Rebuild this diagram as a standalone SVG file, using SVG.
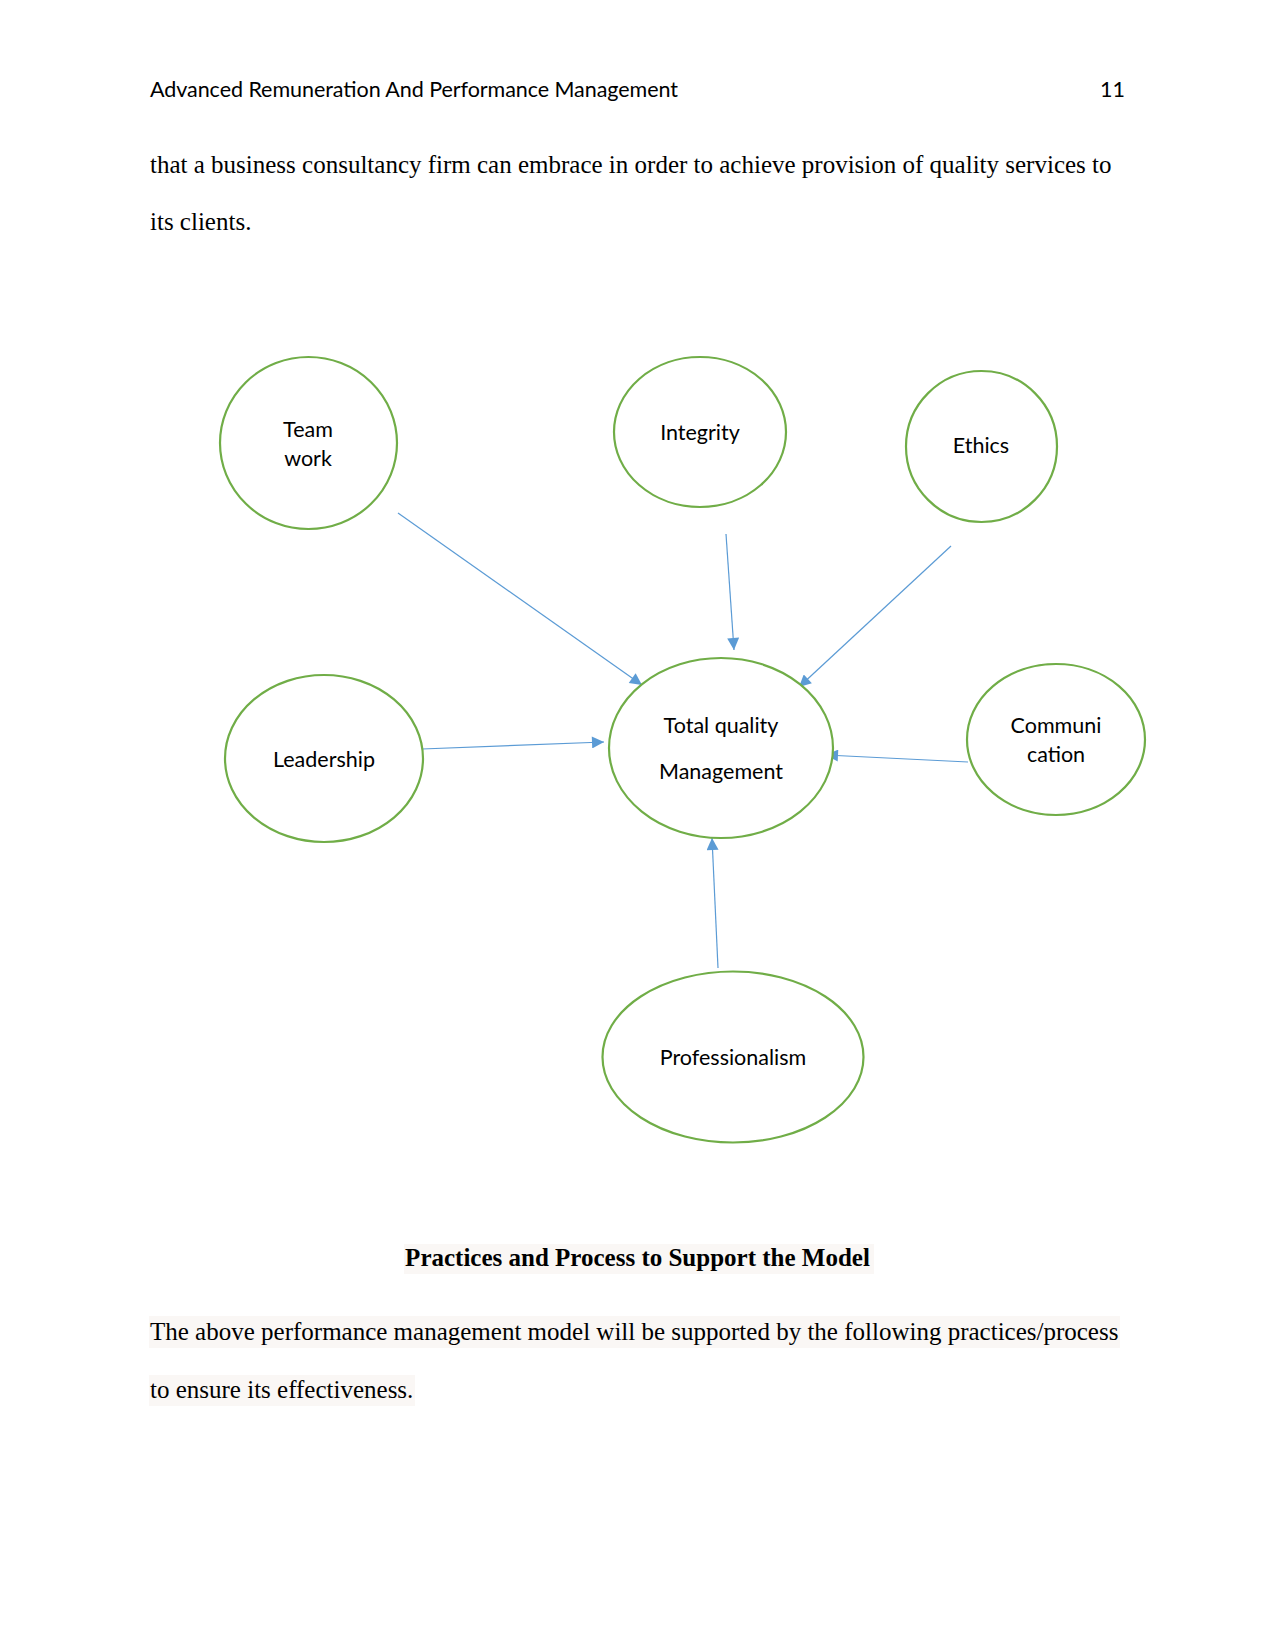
<svg xmlns="http://www.w3.org/2000/svg" width="1275" height="1650" viewBox="0 0 1275 1650">
<style>
.hdr{font-family:Lato,"Open Sans","Liberation Sans",sans-serif;font-size:21.5px;fill:#000}
.body{font-family:"Liberation Serif","Times New Roman",serif;font-size:25px;fill:#000}
.bold{font-family:"Liberation Serif","Times New Roman",serif;font-size:25px;font-weight:bold;fill:#000}
.node ellipse{fill:#fff;stroke:#70AD47;stroke-width:2.2}
.node text{font-family:Lato,"Open Sans","Liberation Sans",sans-serif;font-size:21.5px;fill:#000;text-anchor:middle}
.conn line{stroke:#5B9BD5;stroke-width:1.2;fill:none}
.hl{fill:#faf7f5}
</style>
<defs>
<marker id="arr" viewBox="0 0 10 10" refX="10" refY="5" markerWidth="13" markerHeight="12" markerUnits="userSpaceOnUse" orient="auto">
<path d="M0,0 L10,5 L0,10 z" fill="#5B9BD5"/>
</marker>
</defs>
<rect width="1275" height="1650" fill="#fff"/>
<text class="hdr" x="150" y="97" textLength="528">Advanced Remuneration And Performance Management</text>
<text class="hdr" x="1125" y="97" text-anchor="end">11</text>
<text class="body" x="150" y="173">that a business consultancy firm can embrace in order to achieve provision of quality services to</text>
<text class="body" x="150" y="230">its clients.</text>

<g id="connectors" class="conn">
<line x1="398" y1="513" x2="642" y2="685" marker-end="url(#arr)"/>
<line x1="726" y1="534" x2="734" y2="650" marker-end="url(#arr)"/>
<line x1="951" y1="546" x2="799" y2="687" marker-end="url(#arr)"/>
<line x1="422" y1="749" x2="604" y2="742" marker-end="url(#arr)"/>
<line x1="968" y1="762" x2="826" y2="755" marker-end="url(#arr)"/>
<line x1="718" y1="968" x2="712" y2="838" marker-end="url(#arr)"/>
</g>

<g id="teamwork" class="node">
<ellipse cx="308.5" cy="443" rx="88.5" ry="86"/>
<text x="308" y="437">Team</text>
<text x="308" y="466">work</text>
</g>
<g id="integrity" class="node">
<ellipse cx="700" cy="432" rx="86" ry="75"/>
<text x="700" y="440">Integrity</text>
</g>
<g id="ethics" class="node">
<ellipse cx="981.5" cy="446.5" rx="75.5" ry="75.5"/>
<text x="981" y="453">Ethics</text>
</g>
<g id="leadership" class="node">
<ellipse cx="324" cy="758.5" rx="99" ry="83.5"/>
<text x="324" y="767">Leadership</text>
</g>
<g id="tqm" class="node">
<ellipse cx="721" cy="748" rx="112" ry="90"/>
<text x="721" y="733">Total quality</text>
<text x="721" y="779">Management</text>
</g>
<g id="communication" class="node">
<ellipse cx="1056" cy="739.5" rx="89" ry="75.5"/>
<text x="1056" y="733">Communi</text>
<text x="1056" y="762">cation</text>
</g>
<g id="professionalism" class="node">
<ellipse cx="733" cy="1057" rx="130.5" ry="85.5"/>
<text x="733" y="1065">Professionalism</text>
</g>

<rect class="hl" x="404" y="1244" width="470" height="30"/>
<text class="bold" x="637.5" y="1266" text-anchor="middle">Practices and Process to Support the Model</text>
<rect class="hl" x="149" y="1316" width="971" height="32"/>
<text class="body" x="150" y="1340">The above performance management model will be supported by the following practices/process</text>
<rect class="hl" x="149" y="1375" width="266" height="31"/>
<text class="body" x="150" y="1398">to ensure its effectiveness.</text>
</svg>
